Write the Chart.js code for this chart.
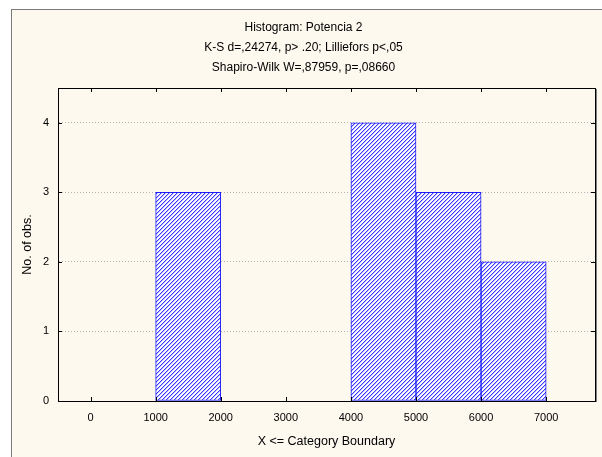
<!DOCTYPE html>
<html>
<head>
<meta charset="utf-8">
<script src="https://cdn.jsdelivr.net/npm/chart.js@4/dist/chart.umd.min.js"></script>
<style>
  html, body { margin: 0; padding: 0; background: #ffffff; }
  #frame {
    position: absolute; left: 11px; top: 9px; width: 591px; height: 448px;
    border-left: 1px solid #7a7a7a; border-top: 1px solid #7a7a7a;
    background: #fdf9ef;
  }
  #wrap { position: absolute; left: 0; top: 0; width: 590px; height: 447px; }
</style>
</head>
<body>
<div id="frame"><div id="wrap"><canvas id="hist"></canvas></div></div>
<script>
// Histogram bins: bin i covers [binStarts[i], binStarts[i] + 1000]
const binStarts = [0, 1000, 2000, 3000, 4000, 5000, 6000];
const counts = [0, 3, 0, 0, 4, 3, 2];
const xTicks = [0, 1000, 2000, 3000, 4000, 5000, 6000, 7000];
const yTicks = [0, 1, 2, 3, 4];
const titleLines = [
  'Histogram: Potencia 2',
  'K-S d=,24274, p> .20; Lilliefors p<,05',
  'Shapiro-Wilk W=,87959, p=,08660'
];
const xLabel = 'X <= Category Boundary';
const yLabel = 'No. of obs.';

// one bar per bin, placed at the bin centre; empty bins are left out
const points = binStarts.map((s, i) => ({ x: s + 500, y: counts[i] > 0 ? counts[i] : null }));

// Diagonal hatch fill
function hatch() {
  const c = document.createElement('canvas');
  c.width = 4; c.height = 4;
  const g = c.getContext('2d');
  g.fillStyle = '#ffffff';
  g.fillRect(0, 0, 4, 4);
  g.fillStyle = '#3434ff';
  for (let i = 0; i < 4; i++) g.fillRect(i, 3 - i, 1, 1);
  g.fillStyle = '#bcbcff';
  for (let i = 0; i < 4; i++) g.fillRect(i, (4 - i) % 4, 1, 1);
  return g.createPattern(c, 'repeat');
}

// Plot frame plus small inward tick marks
const framePlugin = {
  id: 'frame',
  afterDatasetsDraw(chart) {
    const { ctx, chartArea: a, scales } = chart;
    ctx.save();
    ctx.strokeStyle = '#000000';
    ctx.lineWidth = 1;
    ctx.strokeRect(Math.round(a.left) + 0.5, Math.round(a.top) + 0.5,
      Math.round(a.right - a.left), Math.round(a.bottom - a.top));
    ctx.strokeStyle = '#808080';
    ctx.beginPath();
    ctx.moveTo(Math.round(a.right) + 1.5, Math.round(a.top) + 1);
    ctx.lineTo(Math.round(a.right) + 1.5, Math.round(a.bottom) + 1);
    ctx.stroke();
    ctx.strokeStyle = '#000000';
    ctx.beginPath();
    scales.x.ticks.forEach(t => {
      const px = Math.round(scales.x.getPixelForValue(t.value)) + 0.5;
      ctx.moveTo(px, a.top); ctx.lineTo(px, a.top + 4);
      ctx.moveTo(px, a.bottom); ctx.lineTo(px, a.bottom - 4);
    });
    scales.y.ticks.forEach(t => {
      const py = Math.round(scales.y.getPixelForValue(t.value)) + 0.5;
      ctx.moveTo(a.left, py); ctx.lineTo(a.left + 4, py);
      ctx.moveTo(a.right, py); ctx.lineTo(a.right - 4, py);
    });
    ctx.stroke();
    ctx.restore();
  }
};

const font = { family: '"Liberation Sans", Arial, sans-serif', size: 11 };
const titleFont = { family: '"Liberation Sans", Arial, sans-serif', size: 12, weight: 'normal', lineHeight: '20px' };
const axisFont = { family: '"Liberation Sans", Arial, sans-serif', size: 12.5, lineHeight: '12px' };
Chart.defaults.color = '#000000';

new Chart(document.getElementById('hist').getContext('2d'), {
  type: 'bar',
  data: {
    datasets: [{
      data: points,
      backgroundColor: hatch(),
      borderColor: '#1c1cff',
      borderWidth: 1,
      borderSkipped: false,
      barPercentage: 1,
      categoryPercentage: 1
    }]
  },
  options: {
    responsive: true,
    maintainAspectRatio: false,
    animation: false,
    layout: { padding: { left: 0, right: 7, top: 0, bottom: 0 } },
    plugins: {
      legend: { display: false },
      tooltip: { enabled: false },
      title: {
        display: true,
        text: titleLines,
        font: titleFont,
        padding: { top: 8, bottom: 10 }
      }
    },
    scales: {
      x: {
        type: 'linear',
        offset: false,
        min: -500,
        max: 7750,
        grid: { display: false, drawTicks: false },
        border: { display: true, color: '#000000' },
        ticks: { font: font, padding: 10, maxRotation: 0, autoSkip: false, callback: v => String(v) },
        afterBuildTicks(scale) { scale.ticks = xTicks.map(v => ({ value: v })); },
        title: { display: true, text: xLabel, font: axisFont, padding: { top: 0, bottom: 9 } },
        afterFit(scale) { scale.height = 56; }
      },
      y: {
        min: 0,
        max: 4.5,
        grid: {
          drawTicks: false,
          color: ctx => ctx.tick && ctx.tick.value > 0 ? '#b4b4b4' : 'rgba(0,0,0,0)'
        },
        border: { display: true, color: '#000000', dash: [1, 2] },
        ticks: { font: font, padding: 9, callback: v => String(v) },
        afterBuildTicks(scale) { scale.ticks = yTicks.map(v => ({ value: v })); },
        title: { display: true, text: yLabel, font: axisFont, padding: { top: 10, bottom: 0 } },
        afterFit(scale) { scale.width = 46; }
      }
    }
  },
  plugins: [framePlugin]
});
</script>
</body>
</html>
